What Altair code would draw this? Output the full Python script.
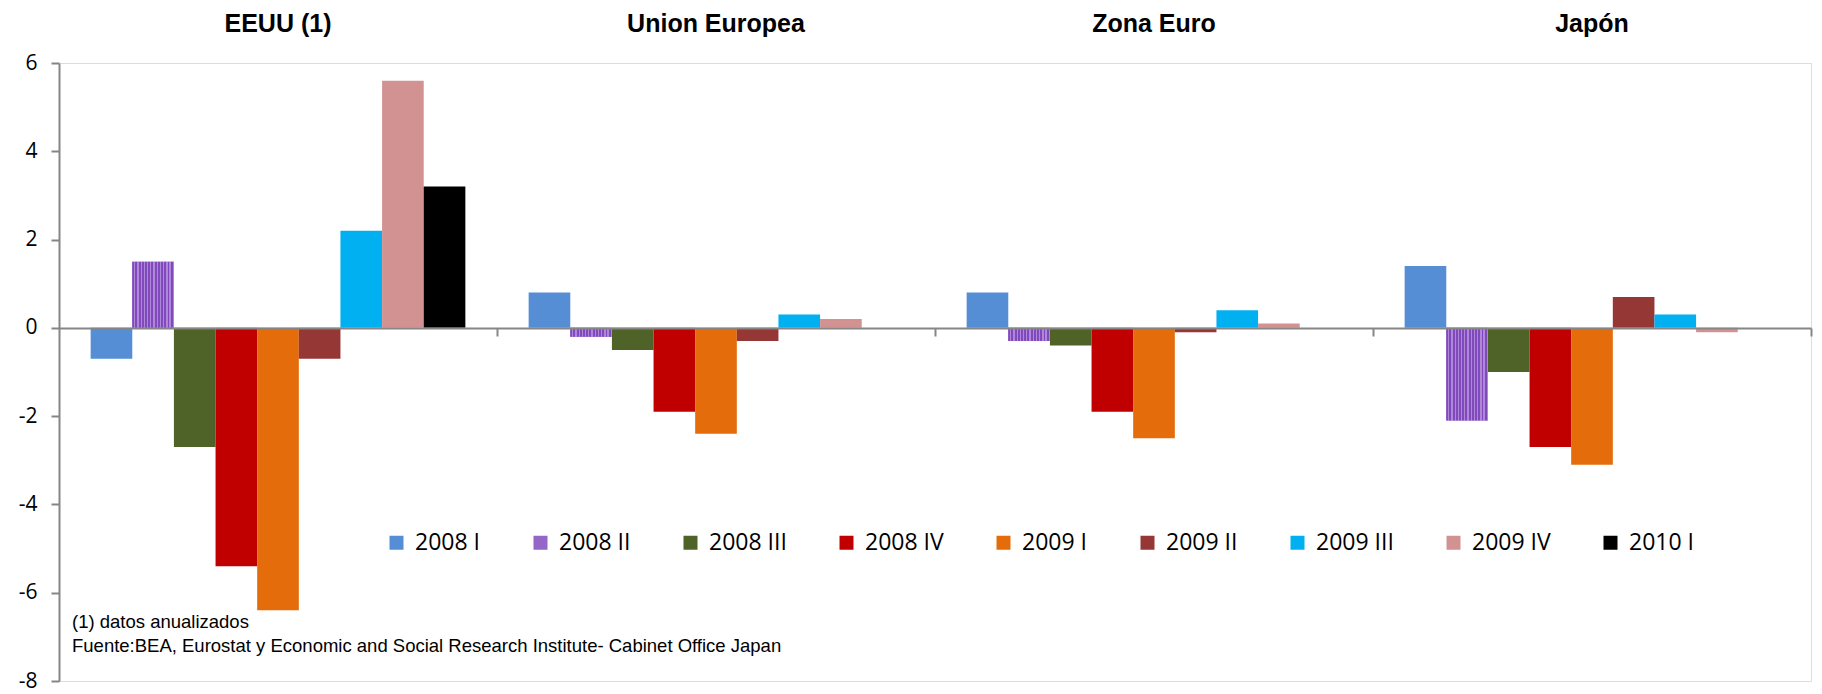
import altair as alt
import pandas as pd

regions = ["EEUU (1)", "Union Europea", "Zona Euro", "Japón"]
series = ["2008 I", "2008 II", "2008 III", "2008 IV", "2009 I",
          "2009 II", "2009 III", "2009 IV", "2010 I"]
eeuu = [-0.7, 1.5, -2.7, -5.4, -6.4, -0.7, 2.2, 5.6, 3.2]
union_europea = [0.8, -0.2, -0.5, -1.9, -2.4, -0.3, 0.3, 0.2, None]
zona_euro = [0.8, -0.3, -0.4, -1.9, -2.5, -0.1, 0.4, 0.1, None]
japon = [1.4, -2.1, -1.0, -2.7, -3.1, 0.7, 0.3, -0.1, None]
colors = ["#558ED5", "#9466C8", "#4F6228", "#C00000", "#E46C0A",
          "#953735", "#00B0F0", "#D29292", "#000000"]
y_ticks = [6, 4, 2, 0, -2, -4, -6, -8]
note_1 = "(1) datos anualizados"
note_2 = "Fuente:BEA, Eurostat y Economic and Social Research Institute- Cabinet Office Japan"

rows = []
for reg, vals in zip(regions, [eeuu, union_europea, zona_euro, japon]):
    for s, v in zip(series, vals):
        if v is not None:
            rows.append({"region": reg, "serie": s, "valor": v})
df = pd.DataFrame(rows)

W, H = 1752, 618
AXIS_GREY = "#868686"

x_enc = alt.X("region:N", sort=regions,
              scale=alt.Scale(domain=regions, paddingInner=0, paddingOuter=0),
              axis=alt.Axis(orient="bottom", offset=-353, labels=False, title=None,
                            domainColor=AXIS_GREY, domainWidth=2,
                            tickColor=AXIS_GREY, tickWidth=2, tickSize=8,
                            bandPosition=1, zindex=1))
xo_enc = alt.XOffset("serie:N", sort=series,
                     scale=alt.Scale(domain=series, paddingInner=0, paddingOuter=0.76))
y_enc = alt.Y("valor:Q",
              scale=alt.Scale(domain=[-8, 6], nice=False, zero=False),
              axis=alt.Axis(values=y_ticks, title=None, grid=False,
                            labelExpr="'' + datum.value",
                            domainColor=AXIS_GREY, domainWidth=2,
                            tickColor=AXIS_GREY, tickWidth=2, tickSize=8,
                            labelFont="Open Sans", labelFontSize=21,
                            labelColor="#000000", labelPadding=14))

bars = alt.Chart(df).mark_bar(strokeWidth=0).encode(
    x=x_enc,
    xOffset=xo_enc,
    y=y_enc,
    y2=alt.datum(0),
    color=alt.Color("serie:N", sort=series,
                    scale=alt.Scale(domain=series, range=colors),
                    legend=alt.Legend(orient="none", direction="horizontal",
                                      columns=9, legendX=326, legendY=468,
                                      title=None, symbolType="square",
                                      symbolSize=196, symbolStrokeWidth=0,
                                      labelFont="Open Sans", labelFontSize=23,
                                      labelColor="#000000", labelOffset=7,
                                      columnPadding=48, padding=0)),
)

# texture for 2008 II (fine stripes approximating the Excel pattern fill)
n = 13
stops = []
for i in range(n):
    stops += [alt.GradientStop(offset=i / n, color="#8149BC"),
              alt.GradientStop(offset=(i + 0.6) / n, color="#8149BC"),
              alt.GradientStop(offset=(i + 0.6) / n, color="#AD88D8"),
              alt.GradientStop(offset=(i + 1) / n, color="#AD88D8")]
pattern = alt.Chart(df).transform_filter(
    alt.datum.serie == "2008 II"
).mark_bar(
    strokeWidth=0,
    fill=alt.Gradient(gradient="linear", x1=0, x2=1, y1=0, y2=0, stops=stops),
).encode(x=x_enc, xOffset=xo_enc, y=y_enc, y2=alt.datum(0))

titles = alt.Chart(pd.DataFrame({"region": regions})).mark_text(
    font="Liberation Sans", fontWeight="bold", fontSize=25,
    baseline="alphabetic", align="center", color="#000000",
).encode(x=x_enc, y=alt.value(-31), text="region:N")

n1 = alt.Chart(pd.DataFrame({"t": [note_1]})).mark_text(
    font="Liberation Sans", fontSize=18.5, align="left", baseline="alphabetic",
    color="#000000",
).encode(x=alt.value(13), y=alt.value(565), text="t:N")
n2 = alt.Chart(pd.DataFrame({"t": [note_2]})).mark_text(
    font="Liberation Sans", fontSize=18.5, align="left", baseline="alphabetic",
    color="#000000",
).encode(x=alt.value(13), y=alt.value(589), text="t:N")

chart = alt.layer(bars, pattern, titles, n1, n2).properties(
    width=W, height=H,
    autosize=alt.AutoSizeParams(type="none"),
    padding={"left": 51, "top": 55, "right": 3, "bottom": 12},
).configure_view(stroke=None).configure(font="Liberation Sans", background="white")

chart.save("out.html", embed_options={"renderer": "svg", "actions": False})
